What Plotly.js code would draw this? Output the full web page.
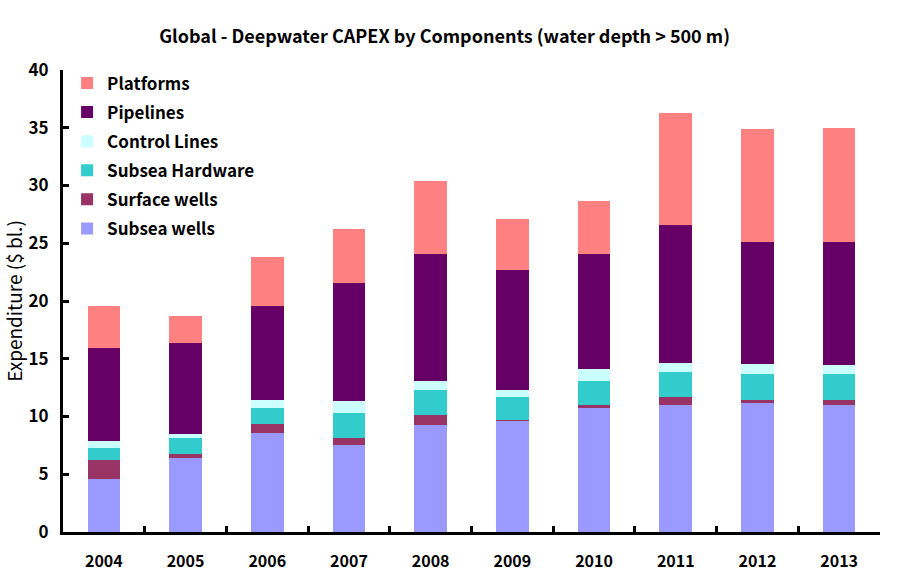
<!DOCTYPE html>
<html>
<head>
<meta charset="utf-8">
<script src="https://cdn.plot.ly/plotly-3.0.1.min.js"></script>
<style>html,body{margin:0;padding:0;background:#fff;}#chart{width:900px;height:585px;}</style>
</head>
<body>
<div id="chart"></div>
<script>
const years = ['2004','2005','2006','2007','2008','2009','2010','2011','2012','2013'];
const subseaWells    = [4.6, 6.45, 8.55, 7.55, 9.25, 9.65, 10.75, 11.0, 11.2, 11.0];
const surfaceWells   = [1.65, 0.3, 0.8, 0.55, 0.9, 0.05, 0.25, 0.7, 0.25, 0.4];
const subseaHardware = [1.05, 1.35, 1.4, 2.2, 2.15, 2.0, 2.05, 2.15, 2.25, 2.25];
const controlLines   = [0.6, 0.4, 0.65, 1.05, 0.8, 0.6, 1.05, 0.8, 0.85, 0.85];
const pipelines      = [8.05, 7.85, 8.15, 10.2, 11.0, 10.4, 9.95, 11.95, 10.6, 10.6];
const platforms      = [3.65, 2.35, 4.25, 4.65, 6.3, 4.4, 4.6, 9.7, 9.75, 9.9];
const yTicks = [0, 5, 10, 15, 20, 25, 30, 35, 40];

const series = [
  {name: 'Subsea wells', y: subseaWells, color: '#9999FF'},
  {name: 'Surface wells', y: surfaceWells, color: '#993366'},
  {name: 'Subsea Hardware', y: subseaHardware, color: '#33CCCC'},
  {name: 'Control Lines', y: controlLines, color: '#CCFFFF'},
  {name: 'Pipelines', y: pipelines, color: '#660066'},
  {name: 'Platforms', y: platforms, color: '#FF8080'}
];
const FONT = '"Noto Sans CJK KR", "Noto Sans", sans-serif';
const traces = series.map((s, i) => ({
  type: 'bar', x: years, y: s.y, name: s.name, legendgroup: 'g' + i,
  legendrank: 1000 - i,
  marker: {color: s.color, line: {width: 0}}, hoverinfo: 'x+y+name'
}));

const layout = {
  width: 900, height: 585,
  margin: {l: 63, r: 20, t: 70, b: 53},
  paper_bgcolor: '#fff', plot_bgcolor: '#fff',
  barmode: 'stack', bargap: 0.6,
  title: {text: '<b>Global - Deepwater CAPEX by Components (water depth &gt; 500 m)</b>',
          font: {family: FONT, size: 18, color: '#000'}, x: 0.494, xref: 'container',
          y: 0.937, yref: 'container', xanchor: 'center', yanchor: 'middle'},
  xaxis: {type: 'category', showline: true, linecolor: '#000', linewidth: 3,
          ticks: 'inside', tickson: 'boundaries', ticklen: 6, tickwidth: 3, tickcolor: '#000',
          tickfont: {family: FONT, size: 16, color: '#000', weight: 'bold'}, ticklabelstandoff: 13,
          showgrid: false, zeroline: false, fixedrange: true},
  yaxis: {range: [0, 40], tickvals: yTicks, ticktext: yTicks.map(String),
          showline: true, linecolor: '#000', linewidth: 3,
          ticks: 'inside', ticklen: 6, tickwidth: 3, tickcolor: '#000',
          tickfont: {family: FONT, size: 17, color: '#000', weight: 'bold'}, ticklabelstandoff: 8,
          showgrid: false, zeroline: false,
          title: {text: 'Expenditure ($ bl.)', font: {family: FONT, size: 19, color: '#000'}, standoff: 8}},
  legend: {x: 0.005, y: 1.01, xanchor: 'left', yanchor: 'top', bgcolor: 'rgba(0,0,0,0)',
           traceorder: 'grouped', tracegroupgap: 4,
           font: {family: FONT, size: 17, color: '#000', weight: 'bold'}},
  showlegend: true
};
Plotly.newPlot('chart', traces, layout, {displayModeBar: false, staticPlot: true});
</script>
</body>
</html>
